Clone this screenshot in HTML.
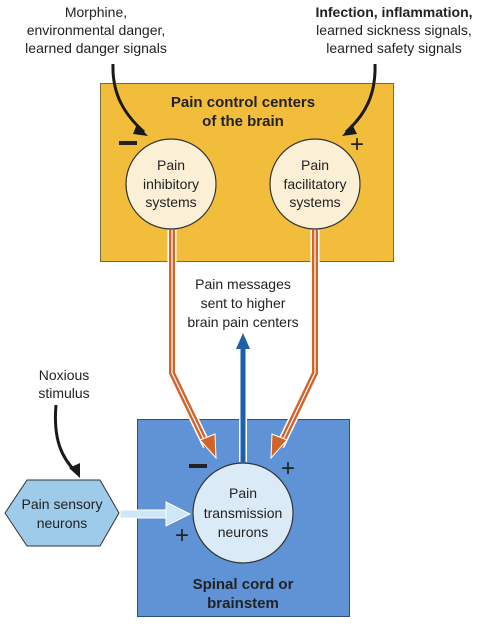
<!DOCTYPE html>
<html><head><style>
html,body{margin:0;padding:0;background:#fff;}
svg{display:block;}
text{font-family:"Liberation Sans",sans-serif;fill:#222;}
</style></head><body>
<svg width="482" height="628" viewBox="0 0 482 628" xmlns="http://www.w3.org/2000/svg">
<defs>
<marker id="bk" markerWidth="8" markerHeight="8" refX="5" refY="4" orient="auto" markerUnits="userSpaceOnUse"><path d="M0,0 L8,4 L0,8 Z" fill="#1a1a1a"/></marker>
</defs>
<!-- yellow box -->
<rect x="100.5" y="83.5" width="293" height="178" fill="#f3bd3c" stroke="#7a6a3a" stroke-width="1"/>
<!-- blue box -->
<rect x="137.5" y="419.5" width="212" height="197" fill="#5f93d6" stroke="#2d4f7a" stroke-width="1"/>
<!-- top texts -->
<text x="96" y="17" font-size="14" text-anchor="middle">Morphine,</text>
<text x="96" y="35" font-size="14" text-anchor="middle">environmental danger,</text>
<text x="96" y="53" font-size="14" text-anchor="middle">learned danger signals</text>
<text x="394" y="17" font-size="14" text-anchor="middle" font-weight="bold">Infection, inflammation,</text>
<text x="394" y="35" font-size="14" text-anchor="middle">learned sickness signals,</text>
<text x="394" y="53" font-size="14" text-anchor="middle">learned safety signals</text>
<!-- black curved arrows -->
<path d="M113,64 C112,95 125,115 144,132" fill="none" stroke="#1a1a1a" stroke-width="3"/>
<path d="M137,124 L148,136 L133,134 Z" fill="#1a1a1a"/>
<path d="M375,64 C376,95 365,115 346,132" fill="none" stroke="#1a1a1a" stroke-width="3"/>
<path d="M352,124 L342,136 L357,134 Z" fill="#1a1a1a"/>
<text x="243" y="107" font-size="15" font-weight="bold" text-anchor="middle">Pain control centers</text>
<text x="243" y="126" font-size="15" font-weight="bold" text-anchor="middle">of the brain</text>
<rect x="119" y="141" width="18" height="4" fill="#222"/>
<text x="357" y="152" font-size="24" text-anchor="middle">+</text>
<!-- circles -->
<circle cx="171" cy="184" r="45" fill="#fbefd6" stroke="#333" stroke-width="1.2"/>
<circle cx="315" cy="184" r="45" fill="#fbefd6" stroke="#333" stroke-width="1.2"/>
<text x="171" y="170" font-size="14" text-anchor="middle">Pain</text>
<text x="171" y="189" font-size="14" text-anchor="middle">inhibitory</text>
<text x="171" y="207" font-size="14" text-anchor="middle">systems</text>
<text x="315" y="170" font-size="14" text-anchor="middle">Pain</text>
<text x="315" y="189" font-size="14" text-anchor="middle">facilitatory</text>
<text x="315" y="207" font-size="14" text-anchor="middle">systems</text>
<!-- orange arrows -->
<g fill="none" stroke-linejoin="miter">
<path d="M172,230 L172,373 L207,446" stroke="#fff" stroke-width="9"/>
<path d="M172,230 L172,373 L207,446" stroke="#d2642a" stroke-width="6"/>
<path d="M172,230 L172,373 L207,446" stroke="#fff" stroke-width="1.2"/>
<path d="M315,230 L315,373 L280,446" stroke="#fff" stroke-width="9"/>
<path d="M315,230 L315,373 L280,446" stroke="#d2642a" stroke-width="6"/>
<path d="M315,230 L315,373 L280,446" stroke="#fff" stroke-width="1.2"/>
</g>
<path d="M200,440 L216,458 L215,434 Z" fill="#d2642a" stroke="#fff" stroke-width="1"/>
<path d="M287,440 L271,458 L272,434 Z" fill="#d2642a" stroke="#fff" stroke-width="1"/>
<!-- blue arrow -->
<line x1="243" y1="462" x2="243" y2="345" stroke="#fff" stroke-width="8"/>
<line x1="243" y1="462" x2="243" y2="345" stroke="#1d5faa" stroke-width="5"/>
<path d="M236,349 L243,333 L250,349 Z" fill="#1d5faa"/>
<text x="243" y="289" font-size="14" text-anchor="middle">Pain messages</text>
<text x="243" y="308" font-size="14" text-anchor="middle">sent to higher</text>
<text x="243" y="327" font-size="14" text-anchor="middle">brain pain centers</text>
<!-- noxious -->
<text x="64" y="380" font-size="14" text-anchor="middle">Noxious</text>
<text x="64" y="398" font-size="14" text-anchor="middle">stimulus</text>
<path d="M56,405 C53,440 62,458 76,472" fill="none" stroke="#1a1a1a" stroke-width="3"/>
<path d="M69,468 L80,478 L80,463 Z" fill="#1a1a1a"/>
<!-- hexagon -->
<polygon points="5,513 27,480 100,480 119,513 100,546 27,546" fill="#9fcbea" stroke="#333" stroke-width="1"/>
<text x="62" y="509" font-size="14" text-anchor="middle">Pain sensory</text>
<text x="62" y="528" font-size="14" text-anchor="middle">neurons</text>
<!-- light arrow -->
<rect x="120" y="510" width="52" height="8" fill="#cfe6f6" stroke="#fff" stroke-width="1"/>
<path d="M166,502 L190,514 L166,526 Z" fill="#cfe6f6" stroke="#fff" stroke-width="1"/>
<!-- transmission circle -->
<circle cx="243" cy="513" r="50" fill="#dbeaf7" stroke="#333" stroke-width="1.2"/>
<text x="243" y="498" font-size="14" text-anchor="middle">Pain</text>
<text x="243" y="518" font-size="14" text-anchor="middle">transmission</text>
<text x="243" y="537" font-size="14" text-anchor="middle">neurons</text>
<rect x="189" y="464" width="18" height="4" fill="#222"/>
<text x="288" y="476" font-size="24" text-anchor="middle">+</text>
<text x="182" y="543" font-size="24" text-anchor="middle">+</text>
<text x="243" y="589" font-size="15" font-weight="bold" text-anchor="middle">Spinal cord or</text>
<text x="243" y="608" font-size="15" font-weight="bold" text-anchor="middle">brainstem</text>
</svg>
</body></html>
